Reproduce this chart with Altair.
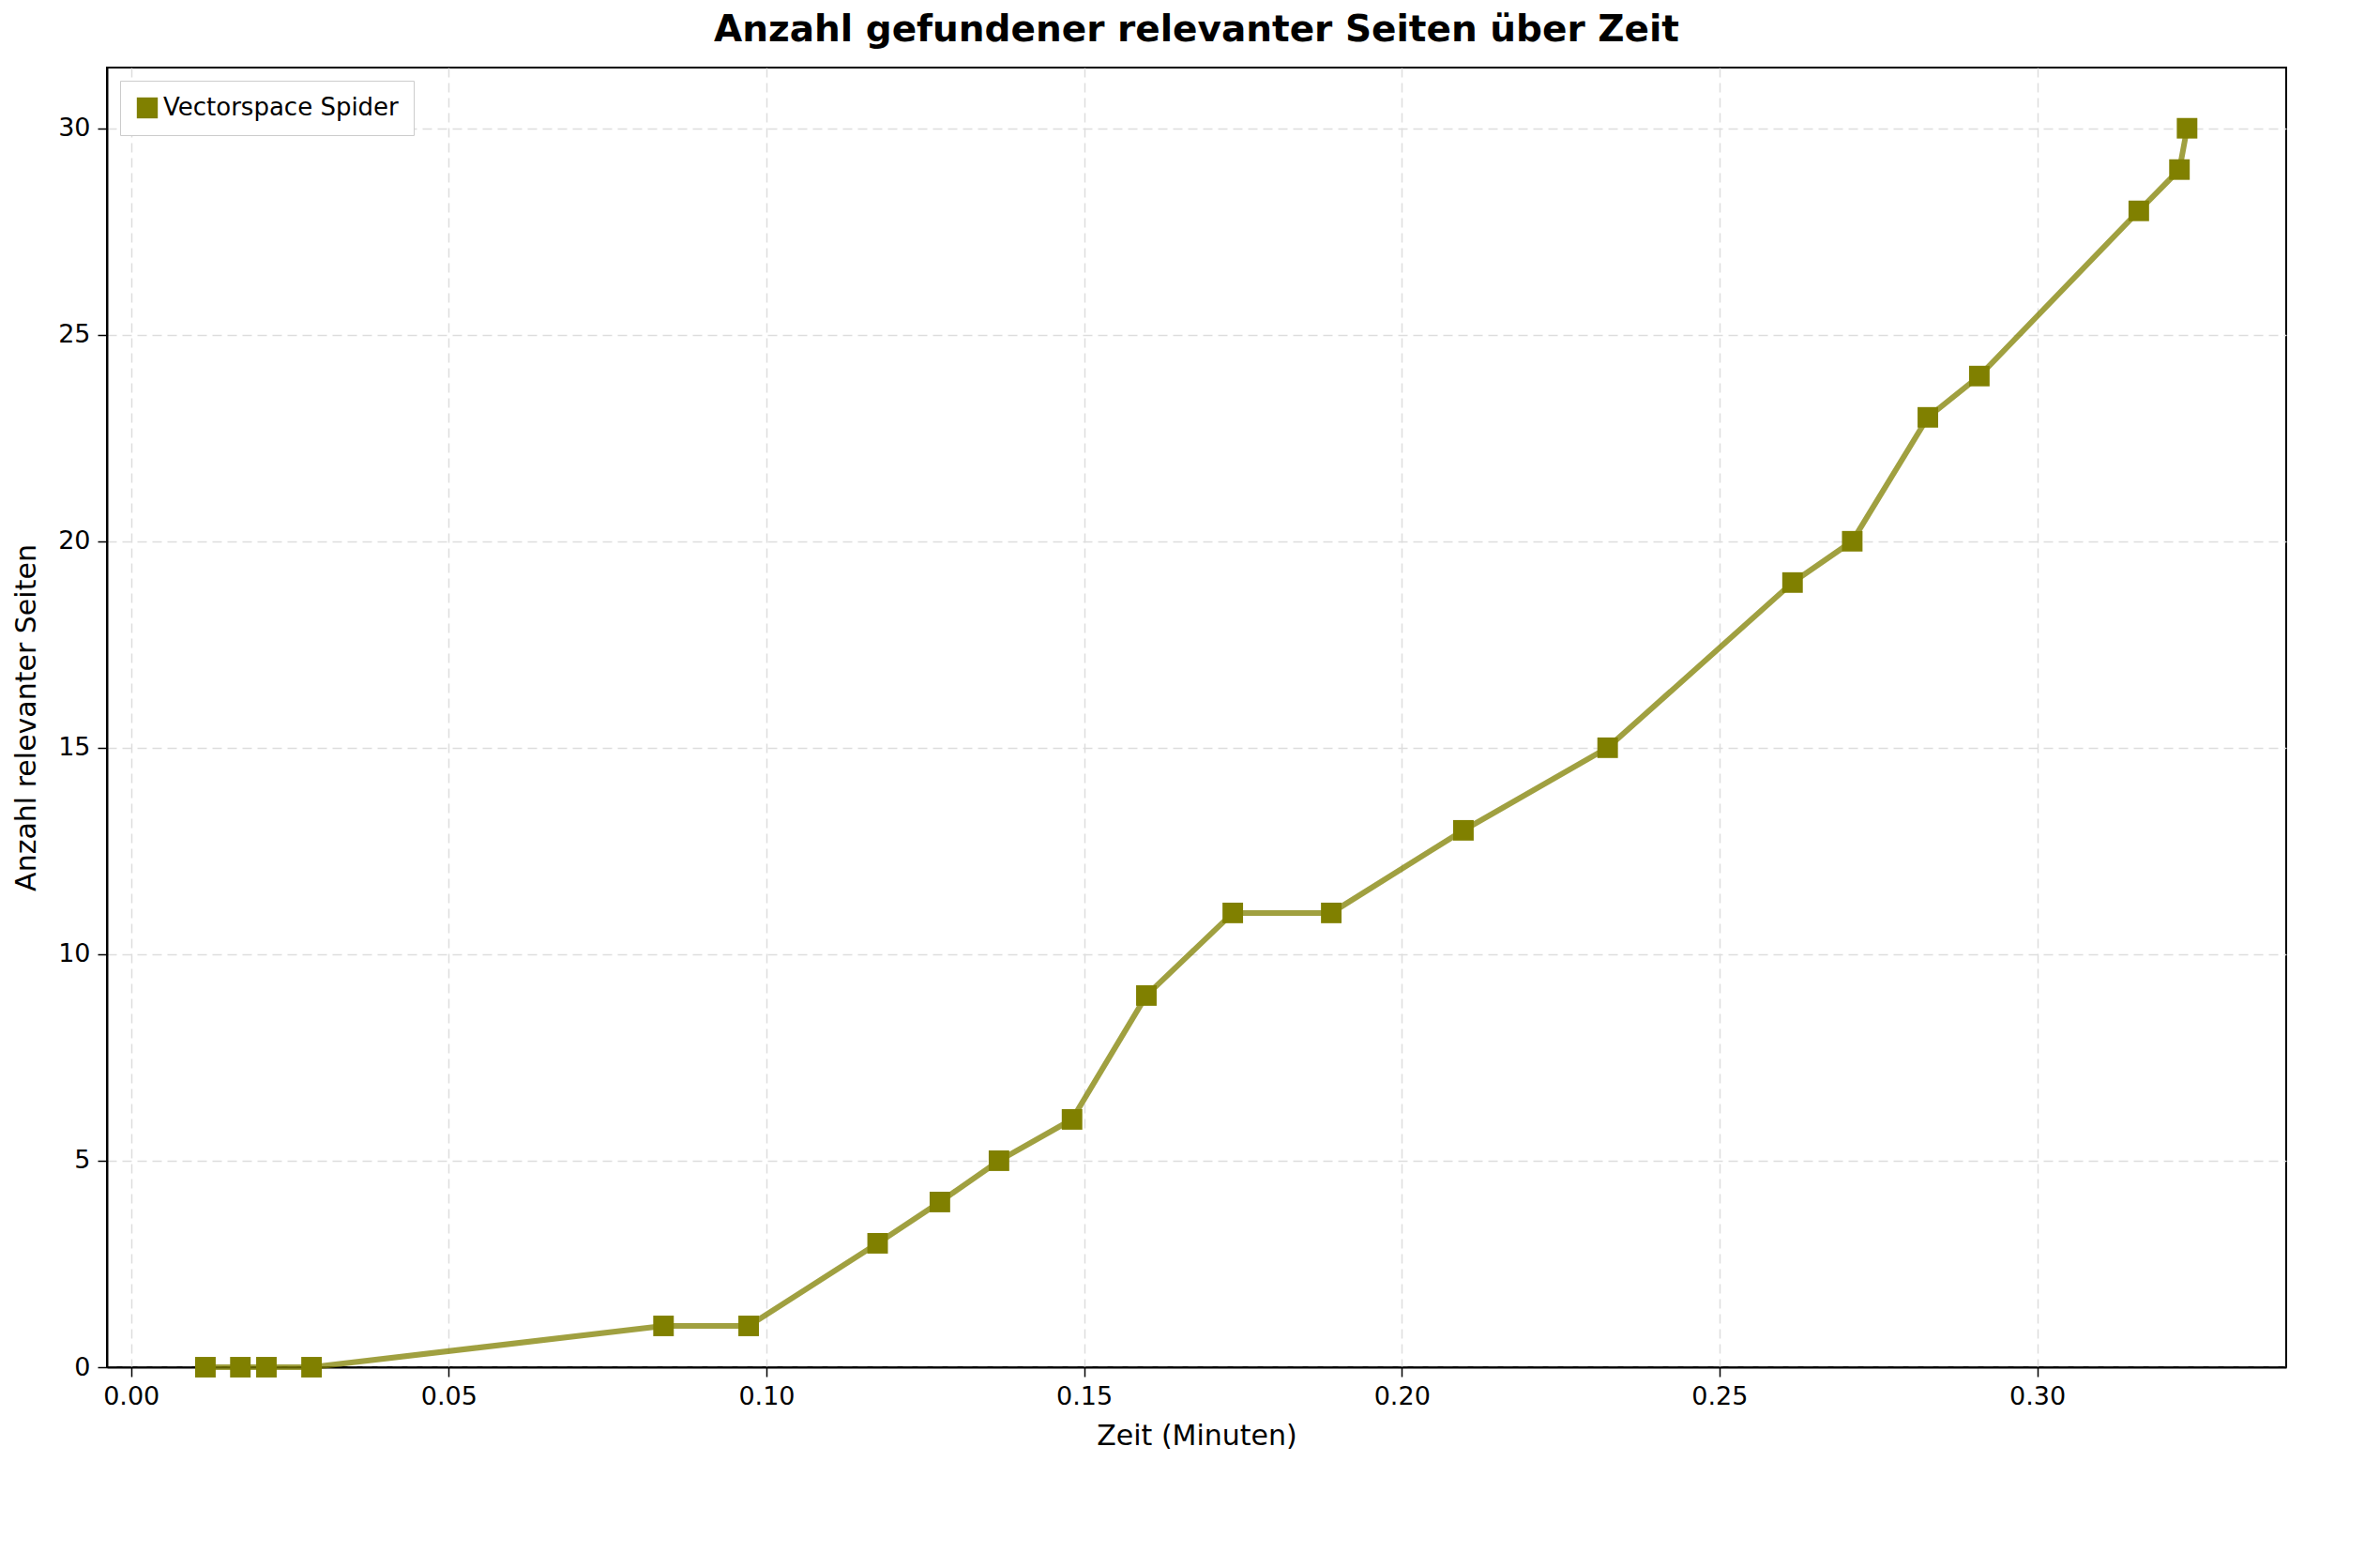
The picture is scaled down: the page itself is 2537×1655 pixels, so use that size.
import altair as alt
import pandas as pd

zeit = [0.0117, 0.0172, 0.0213, 0.0284, 0.0838, 0.0972, 0.1175, 0.1273, 0.1366,
        0.1481, 0.1598, 0.1734, 0.1889, 0.2097, 0.2324, 0.2615, 0.2709, 0.2828,
        0.2909, 0.3160, 0.3224, 0.3236]
seiten = [0, 0, 0, 0, 1, 1, 3, 4, 5, 6, 9, 11, 11, 13, 15, 19, 20, 23, 24, 28, 29, 30]
series = "Vectorspace Spider"

df = pd.DataFrame({"zeit": zeit, "seiten": seiten, "serie": series})
olive = "#808000"
font = "DejaVu Sans"

x = alt.X("zeit:Q", title="Zeit (Minuten)", scale=alt.Scale(domain=[-0.0038, 0.3392], nice=False, zero=False),
          axis=alt.Axis(values=[0, 0.05, 0.1, 0.15, 0.2, 0.25, 0.3], format=".2f", gridDash=[10, 6],
                        gridColor="#dddddd", gridWidth=1.5, tickSize=10, tickWidth=1.5, labelFontSize=27,
                        titleFontSize=30, titlePadding=14, labelPadding=8))
y = alt.Y("seiten:Q", title="Anzahl relevanter Seiten", scale=alt.Scale(domain=[0, 31.47], nice=False),
          axis=alt.Axis(values=[0, 5, 10, 15, 20, 25, 30], gridDash=[10, 6], gridColor="#dddddd",
                        gridWidth=1.5, tickSize=10, tickWidth=1.5, labelFontSize=27, titleFontSize=30,
                        titlePadding=18, labelPadding=8))
color = alt.Color("serie:N", scale=alt.Scale(range=[olive]),
                  legend=alt.Legend(title=None, orient="top-left", labelFontSize=26, symbolSize=500,
                                    symbolType="square", labelLimit=0, fillColor="white",
                                    strokeColor="#cccccc", padding=16, offset=14, labelFont=font,
                                    labelColor="black"))

base = alt.Chart(df).encode(x=x, y=y)
line = base.mark_line(strokeWidth=6, opacity=0.75, color=olive)
pts = base.mark_square(size=480, opacity=1, color=olive).encode(color=color)

chart = alt.layer(line, pts).properties(
    width=2323, height=1385,
    title=alt.TitleParams("Anzahl gefundener relevanter Seiten über Zeit", fontSize=39,
                          fontWeight="bold", font=font, offset=20),
).configure_axis(labelFont=font, titleFont=font, titleFontWeight="normal", domainColor="black",
                 domainWidth=2, tickColor="black", labelColor="black", titleColor="black"
).configure_view(stroke="black", strokeWidth=2)

chart.save("out.html", embed_options={"renderer": "svg", "actions": False})
